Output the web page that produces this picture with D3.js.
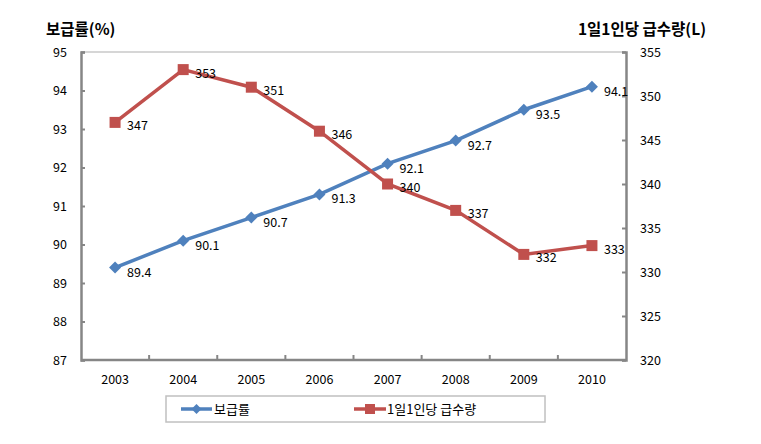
<!DOCTYPE html>
<html><head><meta charset="utf-8">
<script src="https://cdn.jsdelivr.net/npm/d3@7"></script>
<style>body{margin:0;background:#fff}svg{display:block}text{font-family:"Noto Sans CJK KR","Noto Sans",sans-serif}</style>
</head><body>
<svg id="c" width="761" height="444"></svg>
<script>
const years = ["2003","2004","2005","2006","2007","2008","2009","2010"];
const supplyRate = [89.4, 90.1, 90.7, 91.3, 92.1, 92.7, 93.5, 94.1];
const waterPerCapita = [347, 353, 351, 346, 340, 337, 332, 333];
const leftTicks = [87, 88, 89, 90, 91, 92, 93, 94, 95];
const rightTicks = [320, 325, 330, 335, 340, 345, 350, 355];
const seriesNames = ["보급률", "1일1인당 급수량"];
const axisTitles = ["보급률(%)", "1일1인당 급수량(L)"];

const svg = d3.select("#c");
const L = 81, R = 626, T = 52, B = 360;
const blue = "#4F81BD", red = "#C0504D", axisCol = "#868686";

const x = d3.scaleBand().domain(years).range([L, R]);
const yL = d3.scaleLinear().domain([87, 95]).range([B, T]);
const yR = d3.scaleLinear().domain([320, 355]).range([B, T]);

// top border
svg.append("line").attr("x1", L).attr("x2", R).attr("y1", T).attr("y2", T)
  .attr("stroke", "#c8c8c8").attr("stroke-width", 1.5);

// left axis
const gL = svg.append("g").attr("transform", `translate(${L},0)`)
  .call(d3.axisLeft(yL).tickValues(leftTicks).tickSize(-4).tickPadding(14).tickFormat(d3.format("d")));
// right axis
const gR = svg.append("g").attr("transform", `translate(${R},0)`)
  .call(d3.axisRight(yR).tickValues(rightTicks).tickSize(-4).tickPadding(14).tickFormat(d3.format("d")));
// bottom axis
const gB = svg.append("g").attr("transform", `translate(0,${B})`)
  .call(d3.axisBottom(x).tickSize(0).tickPadding(15));
// category boundary ticks
svg.append("g").selectAll("line").data(years.slice(1)).join("line")
  .attr("x1", d => x(d)).attr("x2", d => x(d)).attr("y1", B).attr("y2", B - 5)
  .attr("stroke", axisCol).attr("stroke-width", 2);

[gL, gR, gB].forEach(g => {
  g.select(".domain").attr("stroke", axisCol).attr("stroke-width", 2.5);
  g.selectAll(".tick line").attr("stroke", axisCol).attr("stroke-width", 2);
  g.selectAll("text").attr("font-size", 12.5).attr("fill", "#000")
    .style("font-family", '"Noto Sans CJK KR", sans-serif');
});
gB.select(".domain").attr("d", `M${L},0H${R}`);

const cx = d => x(d) + x.bandwidth() / 2;

// lines
svg.append("path").datum(supplyRate)
  .attr("d", d3.line().x((d, i) => cx(years[i])).y(d => yL(d)))
  .attr("fill", "none").attr("stroke", blue).attr("stroke-width", 3.5);
svg.append("path").datum(waterPerCapita)
  .attr("d", d3.line().x((d, i) => cx(years[i])).y(d => yR(d)))
  .attr("fill", "none").attr("stroke", red).attr("stroke-width", 3.5);

// markers
svg.append("g").selectAll("path").data(supplyRate).join("path")
  .attr("transform", (d, i) => `translate(${cx(years[i])},${yL(d)})`)
  .attr("d", "M0,-6L6,0L0,6L-6,0Z").attr("fill", blue);
svg.append("g").selectAll("rect").data(waterPerCapita).join("rect")
  .attr("x", (d, i) => cx(years[i]) - 5.5).attr("y", d => yR(d) - 5.5)
  .attr("width", 11).attr("height", 11).attr("fill", red);

// data labels
svg.append("g").selectAll("text").data(supplyRate).join("text")
  .attr("x", (d, i) => cx(years[i]) + 12).attr("y", d => yL(d) + 9)
  .attr("font-size", 12.5).text(d => d.toFixed(1));
svg.append("g").selectAll("text").data(waterPerCapita).join("text")
  .attr("x", (d, i) => cx(years[i]) + 12).attr("y", d => yR(d) + 8)
  .attr("font-size", 12.5).text(d => d);

// axis titles
svg.append("text").attr("x", 46).attr("y", 35).attr("font-size", 15.5).attr("font-weight", "bold").text(axisTitles[0]);
svg.append("text").attr("x", 706).attr("y", 35).attr("text-anchor", "end").attr("font-size", 15.5).attr("font-weight", "bold").text(axisTitles[1]);

// legend
svg.append("rect").attr("x", 166).attr("y", 396).attr("width", 379).attr("height", 26)
  .attr("fill", "#fff").attr("stroke", "#c0c0c0").attr("stroke-width", 1.5);
const lg = svg.append("g");
const ly = 409;
lg.append("line").attr("x1", 181).attr("x2", 212).attr("y1", ly).attr("y2", ly).attr("stroke", blue).attr("stroke-width", 3.5);
lg.append("path").attr("transform", `translate(196.5,${ly})`).attr("d", "M0,-5L5,0L0,5L-5,0Z").attr("fill", blue);
lg.append("text").attr("x", 214).attr("y", ly + 5).attr("font-size", 13).text(seriesNames[0]);
lg.append("line").attr("x1", 354).attr("x2", 386).attr("y1", ly).attr("y2", ly).attr("stroke", red).attr("stroke-width", 3.5);
lg.append("rect").attr("x", 365).attr("y", ly - 5).attr("width", 10).attr("height", 10).attr("fill", red);
lg.append("text").attr("x", 387).attr("y", ly + 5).attr("font-size", 13).text(seriesNames[1]);
</script>
</body></html>
